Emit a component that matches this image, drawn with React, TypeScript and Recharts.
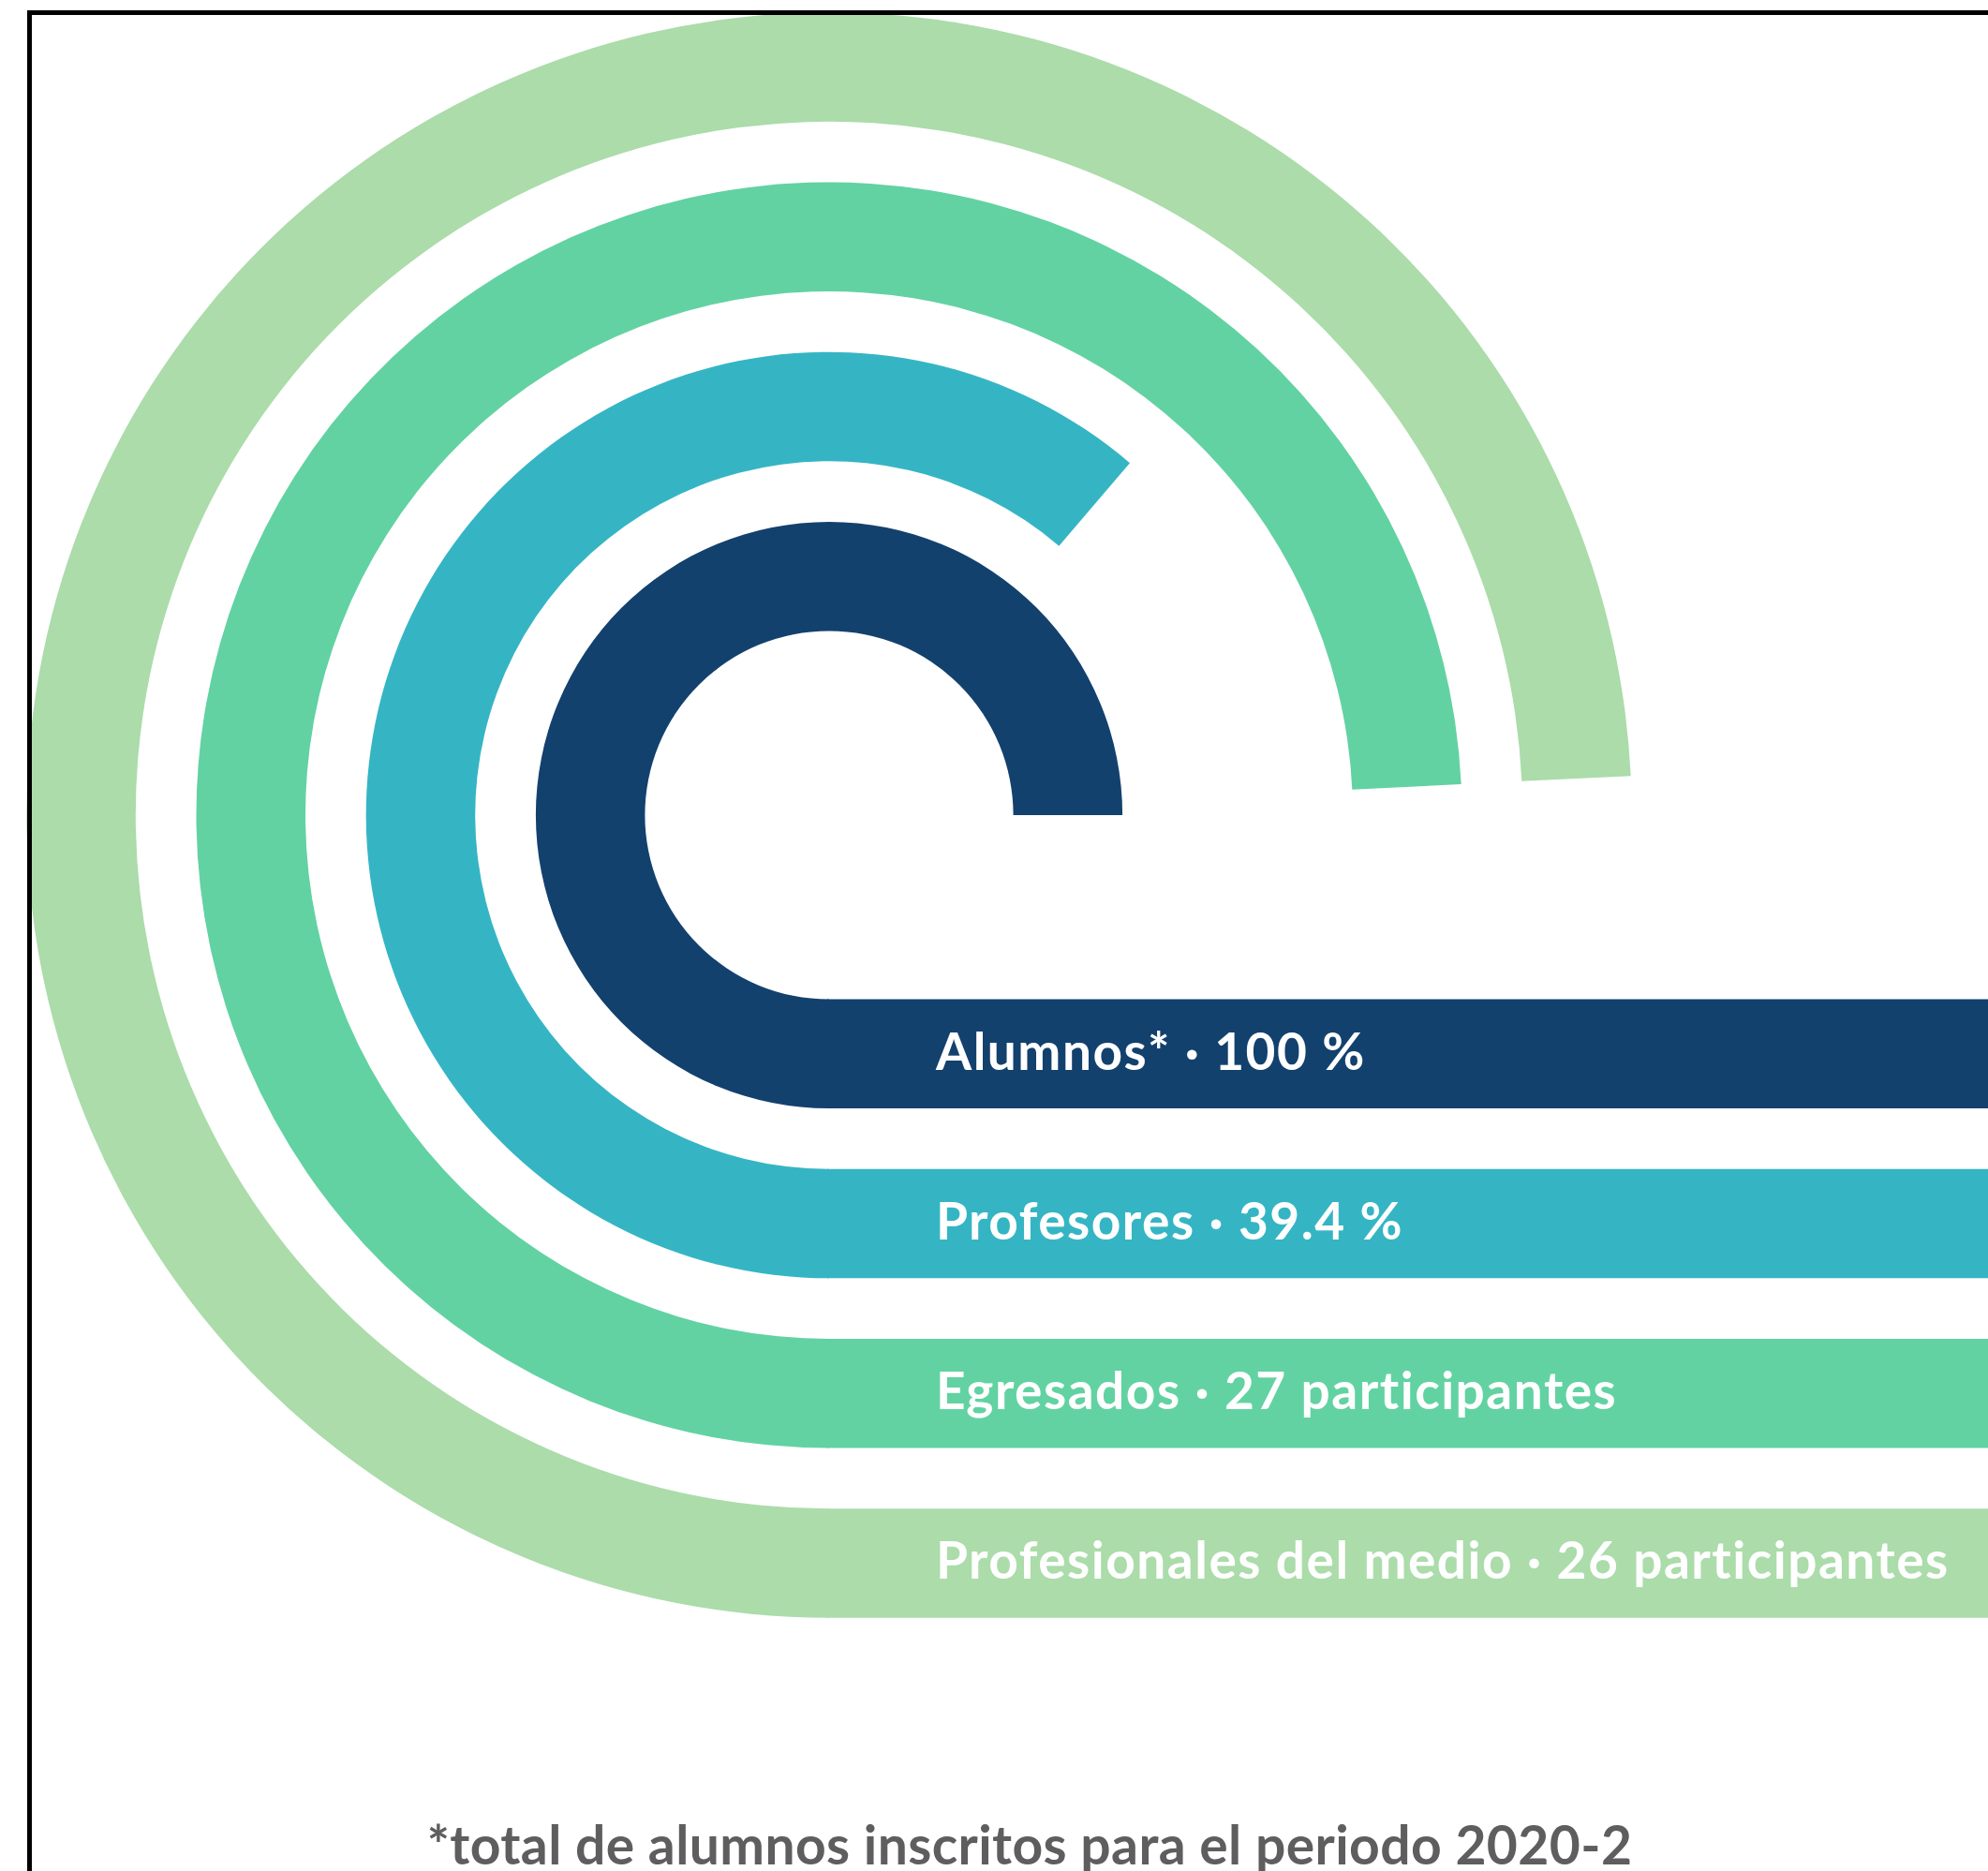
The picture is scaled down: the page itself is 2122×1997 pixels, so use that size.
import { RadialBarChart, RadialBar, PolarAngleAxis, Sector, Rectangle } from 'recharts';

const W = 2122;
const H = 1997;
const CX = 885;
const CY = 870;

// sweep of each ring in degrees (full turn of the scale = 270°)
const groups = ['Alumnos', 'Profesores', 'Egresados', 'Profesionales'];
const sweeps = [270, 220.5, 267.2, 267.2];
const labels = [
  'Alumnos* · 100 %',
  'Profesores · 39.4 %',
  'Egresados · 27 participantes',
  'Profesionales del medio · 26 participantes',
];
const colors = ['#13416e', '#35b5c4', '#62d2a2', '#abdcaa'];
const footnote = '*total de alumnos inscritos para el periodo 2020-2';

const data = groups.map((name, i) => ({
  name,
  sweep: sweeps[i],
  label: labels[i],
  fill: colors[i],
}));

const RingWithBar = (props: any) => {
  const { cx, cy, innerRadius, outerRadius, startAngle, endAngle, payload } = props;
  const thick = outerRadius - innerRadius;
  return (
    <g>
      <Sector
        cx={cx}
        cy={cy}
        innerRadius={innerRadius}
        outerRadius={outerRadius}
        startAngle={startAngle}
        endAngle={endAngle}
        fill={payload.fill}
      />
      <Rectangle x={cx - 2} y={cy + innerRadius} width={W - cx + 2} height={thick} fill={payload.fill} />
      <text
        x={cx + 114}
        y={cy + innerRadius + thick / 2 + 17}
        fill="#ffffff"
        style={{ fontFamily: 'Lato, sans-serif', fontWeight: 700, fontSize: 55, letterSpacing: 1.5 }}
      >
        {payload.label}
      </text>
    </g>
  );
};

export default function App() {
  return (
    <div style={{ position: 'absolute', left: 0, top: 0, width: W, height: H, background: '#fff', overflow: 'hidden' }}>
      <RadialBarChart
        width={W}
        height={H}
        cx={CX}
        cy={CY}
        innerRadius={164.6}
        outerRadius={889.4}
        startAngle={270}
        endAngle={0}
        barSize={116.5}
        data={data}
        margin={{ top: 0, right: 0, bottom: 0, left: 0 }}
      >
        <PolarAngleAxis type="number" domain={[0, 270]} tick={false} axisLine={false} />
        <RadialBar dataKey="sweep" isAnimationActive={false} shape={<RingWithBar />} />
      </RadialBarChart>
      <svg width={W} height={H} style={{ position: 'absolute', left: 0, top: 0, pointerEvents: 'none' }}>
        <rect x={31.5} y={13.5} width={W + 20} height={H + 20} fill="none" stroke="#000" strokeWidth={5} />
        <text
          x={1099}
          y={1990}
          textAnchor="middle"
          fill="#5e5e5e"
          style={{ fontFamily: 'Lato, sans-serif', fontWeight: 700, fontSize: 57, letterSpacing: 0.4 }}
        >
          {footnote}
        </text>
      </svg>
    </div>
  );
}
